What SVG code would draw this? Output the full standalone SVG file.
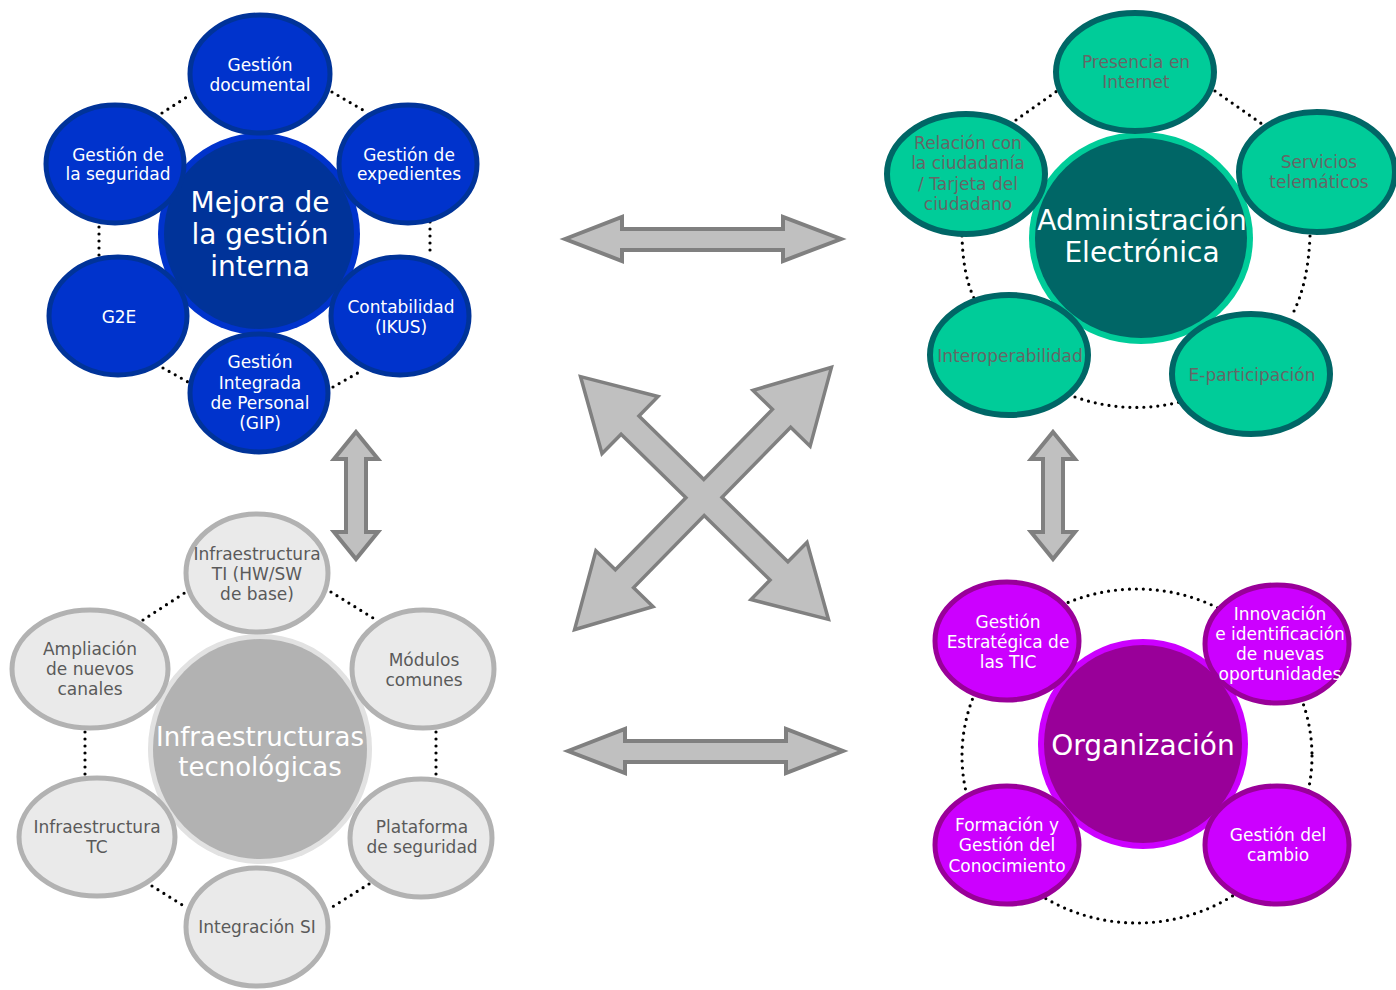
<svg xmlns="http://www.w3.org/2000/svg" xmlns:xlink="http://www.w3.org/1999/xlink" width="1396" height="990" viewBox="0 0 1396 990">
<defs>
<style>
.dot{fill:none;stroke:#000;stroke-width:3.2;stroke-linecap:round;stroke-dasharray:0 7}
.bs{fill:#0033CC;stroke:#003399;stroke-width:5}
.gs{fill:#00CC99;stroke:#006666;stroke-width:6}
.ys{fill:#EAEAEA;stroke:#B2B2B2;stroke-width:5}
.ms{fill:#CC00FF;stroke:#990099;stroke-width:5}
.arr{fill:#C0C0C0;stroke:#808080;stroke-width:4;stroke-linejoin:miter}
.t{font-family:'DejaVu Sans','Liberation Sans',sans-serif;font-size:17px;text-anchor:middle}
.h{font-size:28px}
.w{fill:#FFFFFF}
.g{fill:#666666}
.k{fill:#5A5A5A}
</style>
<polygon id="d1" points="-170,0 -106,-37 -106,-11 106,-11 106,-37 170,0 106,37 106,11 -106,11 -106,37" transform="translate(704.5,498) rotate(44.4)"/>
<polygon id="d2" points="-180,0 -114,-37 -114,-11 114,-11 114,-37 180,0 114,37 114,11 -114,11 -114,37" transform="translate(703,498.5) rotate(-45.6)"/>
</defs>
<rect width="1396" height="990" fill="#FFFFFF"/>

<g id="connectors">
<!-- top-left ring -->
<path class="dot" d="M162,113 L190,95"/>
<path class="dot" d="M332,92 L363,110"/>
<path class="dot" d="M99,227 L99,256"/>
<path class="dot" d="M430,222 L430,257"/>
<path class="dot" d="M163,368 L188,382"/>
<path class="dot" d="M333,387 L363,370"/>
<!-- top-right ring -->
<path class="dot" d="M1016,120 L1057,91"/>
<path class="dot" d="M1215,91 L1262,124"/>
<path class="dot" d="M1310,236 Q1308,285 1292,315"/>
<path class="dot" d="M962,236 Q963,275 974,298"/>
<path class="dot" d="M1075,397 Q1127,415 1180,402"/>
<!-- bottom-left ring -->
<path class="dot" d="M143,620 L186,592"/>
<path class="dot" d="M331,592 L378,621"/>
<path class="dot" d="M85,732 L85,775"/>
<path class="dot" d="M436,732 L436,775"/>
<path class="dot" d="M152,886 L184,906"/>
<path class="dot" d="M369,884 L329,909"/>
<!-- bottom-right ring -->
<ellipse class="dot" cx="1137" cy="756" rx="175" ry="167"/>
<!-- big arrows -->
<polygon class="arr" points="565,239 622,217 622,229 783,229 783,217 841,239 783,261 783,250 622,250 622,261"/>
<polygon class="arr" points="568,751 625,729 625,741 786,741 786,729 843,751 786,773 786,762 625,762 625,773"/>
<polygon class="arr" points="356,432 378,459 366,459 366,532 378,532 356,559 334,532 346,532 346,459 334,459"/>
<polygon class="arr" points="1053,432 1075,459 1063,459 1063,532 1075,532 1053,559 1031,532 1043,532 1043,459 1031,459"/>
<g fill="#C0C0C0" stroke="#808080" stroke-width="7" stroke-linejoin="miter">
<use xlink:href="#d1"/>
<use xlink:href="#d2"/>
</g>
<g fill="#C0C0C0" stroke="none">
<use xlink:href="#d1"/>
<use xlink:href="#d2"/>
</g>
</g>

<!-- ===== Mejora de la gestión interna ===== -->
<g id="mejora">
<circle cx="259" cy="234" r="101" fill="#0033CC"/>
<circle cx="259" cy="234" r="95" fill="#003399"/>
</g>
<g id="gestion-documental"><ellipse class="bs" cx="260" cy="74" rx="70" ry="59"/>
<text class="t w"><tspan x="260" y="71">Gestión</tspan><tspan x="260" y="91">documental</tspan></text></g>
<g id="gestion-expedientes"><ellipse class="bs" cx="408" cy="164" rx="69" ry="59"/>
<text class="t w"><tspan x="409" y="161">Gestión de</tspan><tspan x="409" y="180">expedientes</tspan></text></g>
<g id="contabilidad"><ellipse class="bs" cx="400" cy="316" rx="69" ry="59"/>
<text class="t w"><tspan x="401" y="313">Contabilidad</tspan><tspan x="401" y="333">(IKUS)</tspan></text></g>
<g id="gip"><ellipse class="bs" cx="259" cy="393" rx="69" ry="59"/>
<text class="t w"><tspan x="260" y="368">Gestión</tspan><tspan x="260" y="389">Integrada</tspan><tspan x="260" y="409">de Personal</tspan><tspan x="260" y="429">(GIP)</tspan></text></g>
<g id="g2e"><ellipse class="bs" cx="118" cy="316" rx="69" ry="59"/>
<text class="t w" x="119" y="323">G2E</text></g>
<g id="gestion-seguridad"><ellipse class="bs" cx="115" cy="164" rx="69" ry="59"/>
<text class="t w"><tspan x="118" y="161">Gestión de</tspan><tspan x="118" y="180">la seguridad</tspan></text></g>
<g id="mejora-label">
<text class="t h w"><tspan x="260" y="212">Mejora de</tspan><tspan x="260" y="244">la gestión</tspan><tspan x="260" y="276">interna</tspan></text>
</g>

<!-- ===== Administración Electrónica ===== -->
<g id="admin-electronica">
<ellipse cx="1141" cy="238" rx="112" ry="106" fill="#00CC99"/>
<ellipse cx="1141" cy="238" rx="106" ry="100" fill="#006666"/>
</g>
<g id="presencia"><ellipse class="gs" cx="1135" cy="72" rx="79" ry="59"/>
<text class="t g"><tspan x="1136" y="68">Presencia en</tspan><tspan x="1136" y="88">Internet</tspan></text></g>
<g id="servicios"><ellipse class="gs" cx="1317" cy="172" rx="78" ry="60"/>
<text class="t g"><tspan x="1319" y="168">Servicios</tspan><tspan x="1319" y="188">telemáticos</tspan></text></g>
<g id="e-participacion"><ellipse class="gs" cx="1251" cy="374" rx="79" ry="60"/>
<text class="t g" x="1252" y="381">E-participación</text></g>
<g id="interoperabilidad"><ellipse class="gs" cx="1009" cy="355" rx="79" ry="60"/>
<text class="t g" x="1010" y="362">Interoperabilidad</text></g>
<g id="relacion"><ellipse class="gs" cx="966" cy="174" rx="79" ry="60"/>
<text class="t g"><tspan x="968" y="149">Relación con</tspan><tspan x="968" y="169">la ciudadanía</tspan><tspan x="968" y="190">/ Tarjeta del</tspan><tspan x="968" y="210">ciudadano</tspan></text></g>
<g id="admin-label">
<text class="t h w"><tspan x="1142" y="230">Administración</tspan><tspan x="1142" y="262">Electrónica</tspan></text>
</g>

<!-- ===== Infraestructuras tecnológicas ===== -->
<g id="infraestructuras">
<ellipse cx="260" cy="749" rx="112" ry="115" fill="#E2E2E2"/>
<ellipse cx="260" cy="749" rx="107" ry="110" fill="#B2B2B2"/>
</g>
<g id="infra-ti"><ellipse class="ys" cx="257" cy="573" rx="71" ry="59"/>
<text class="t k"><tspan x="257" y="560">Infraestructura</tspan><tspan x="257" y="580">TI (HW/SW</tspan><tspan x="257" y="600">de base)</tspan></text></g>
<g id="modulos"><ellipse class="ys" cx="423" cy="669" rx="71" ry="59"/>
<text class="t k"><tspan x="424" y="666">Módulos</tspan><tspan x="424" y="686">comunes</tspan></text></g>
<g id="plataforma"><ellipse class="ys" cx="421" cy="838" rx="71" ry="59"/>
<text class="t k"><tspan x="422" y="833">Plataforma</tspan><tspan x="422" y="853">de seguridad</tspan></text></g>
<g id="integracion"><ellipse class="ys" cx="257" cy="927" rx="71" ry="59"/>
<text class="t k" x="257" y="933">Integración SI</text></g>
<g id="infra-tc"><ellipse class="ys" cx="97" cy="837" rx="78" ry="59"/>
<text class="t k"><tspan x="97" y="833">Infraestructura</tspan><tspan x="97" y="853">TC</tspan></text></g>
<g id="ampliacion"><ellipse class="ys" cx="90" cy="669" rx="78" ry="59"/>
<text class="t k"><tspan x="90" y="655">Ampliación</tspan><tspan x="90" y="675">de nuevos</tspan><tspan x="90" y="695">canales</tspan></text></g>
<g id="infraestructuras-label">
<text class="t w" style="font-size:26px"><tspan x="260" y="746">Infraestructuras</tspan><tspan x="260" y="776">tecnológicas</tspan></text>
</g>

<!-- ===== Organización ===== -->
<g id="organizacion">
<circle cx="1143" cy="744" r="105" fill="#CC00FF"/>
<circle cx="1143" cy="744" r="99" fill="#990099"/>
</g>
<g id="estrategica"><ellipse class="ms" cx="1007" cy="641" rx="72" ry="59"/>
<text class="t w"><tspan x="1008" y="628">Gestión</tspan><tspan x="1008" y="648">Estratégica de</tspan><tspan x="1008" y="668">las TIC</tspan></text></g>
<g id="innovacion"><ellipse class="ms" cx="1277" cy="644" rx="72" ry="59"/>
<text class="t w"><tspan x="1280" y="620">Innovación</tspan><tspan x="1280" y="640">e identificación</tspan><tspan x="1280" y="660">de nuevas</tspan><tspan x="1280" y="680">oportunidades</tspan></text></g>
<g id="formacion"><ellipse class="ms" cx="1007" cy="845" rx="72" ry="59"/>
<text class="t w"><tspan x="1007" y="831">Formación y</tspan><tspan x="1007" y="851">Gestión del</tspan><tspan x="1007" y="872">Conocimiento</tspan></text></g>
<g id="cambio"><ellipse class="ms" cx="1277" cy="845" rx="72" ry="59"/>
<text class="t w"><tspan x="1278" y="841">Gestión del</tspan><tspan x="1278" y="861">cambio</tspan></text></g>
<g id="organizacion-label">
<text class="t h w" x="1143" y="755">Organización</text>
</g>
</svg>
